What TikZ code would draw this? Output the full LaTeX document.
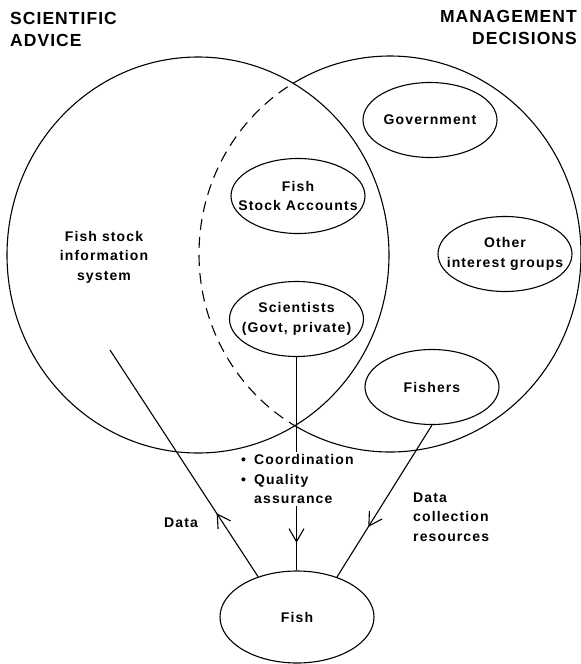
\documentclass[tikz,border=0pt]{standalone}
\usepackage{fontspec}
\setmainfont{Liberation Sans}
\newfontfamily\ttlfam{Liberation Sans}[LetterSpace=6]
\newfontfamily\inrfam{Liberation Sans}[LetterSpace=8]
\newcommand\ttlfont{\ttlfam\bfseries\fontsize{17.5}{22}\selectfont}
\newcommand\inrfont{\inrfam\bfseries\fontsize{14}{19.5}\selectfont}
\usetikzlibrary{shapes.geometric,arrows.meta,decorations.markings}
\tikzset{
  lw/.style={line width=1.1pt},
  oval/.style={ellipse, draw, lw, minimum width=134pt, minimum height=75pt, inner sep=0pt,
    label={[lbl, align=center]center:#1}},
  lbl/.style={inner sep=0pt, font=\inrfont},
  ttl/.style={inner sep=0pt, font=\ttlfont},
  barb/.style={decoration={markings, mark=at position #1 with {\arrow{Straight Barb[length=13pt,width=15pt,line width=1.1pt]}}}, postaction={decorate}},
  conn/.style={lw}
}
\begin{document}
\begin{tikzpicture}[x=1pt,y=-1pt]
\useasboundingbox (0,0) rectangle (581,664);
% titles
\node[ttl, anchor=north west, align=left] (sa) at (10,12) {SCIENTIFIC\\ADVICE};
\node[ttl, anchor=north east, align=right] (md) at (577,10) {MANAGEMENT\\DECISIONS};
% big circles
\draw[lw] (198,255) ellipse [x radius=191pt, y radius=198pt];
\begin{scope}[even odd rule]
  \clip (-20,-20) rectangle (620,700) (198,255) ellipse [x radius=191pt, y radius=198pt];
  \draw[lw] (390,254) ellipse [x radius=191pt, y radius=198pt];
\end{scope}
\begin{scope}
  \clip (198,255) ellipse [x radius=191pt, y radius=198pt];
  \draw[lw, dash pattern=on 11pt off 7pt] (390,254) ellipse [x radius=191pt, y radius=198pt];
\end{scope}
% inner ovals
\node[oval={Government}] (gov) at (430,120) {};
\node[oval={Fish\\Stock Accounts}] (fsa) at (298,196) {};
\node[oval={Other\\interest groups}] (oig) at (505,254) {};
\node[oval={Scientists\\(Govt, private)}] (sci) at (296.5,319) {};
\node[oval={Fishers}] (fishers) at (432,387) {};
\node[oval={Fish}, minimum width=154pt, minimum height=92pt] (fish) at (297,617) {};
% labels
\node[lbl, align=center] (fsis) at (104,257) {Fish stock\\information\\system};
\coordinate (fsisend) at (110,350);
\node[lbl] (data) at (181,523) {Data};
\node[lbl, align=left, anchor=west] (dcr) at (413,517) {Data\\collection\\resources};
% connectors
\draw[conn, barb=0.28] (fish.134) -- (fsisend);
\draw[conn, barb=0.87] (sci.south) -- (sci.south |- fish.north);
\draw[conn, barb=0.67] (fishers.south) -- (fish.45);
% coordination text over the middle line
\node[lbl, align=left, anchor=west, fill=white, inner ysep=2pt, inner xsep=1pt] (coord) at (240,479)
  {\makebox[13pt][l]{•}Coordination\\\makebox[13pt][l]{•}Quality\\\hspace*{13pt}assurance};
\end{tikzpicture}
\end{document}
